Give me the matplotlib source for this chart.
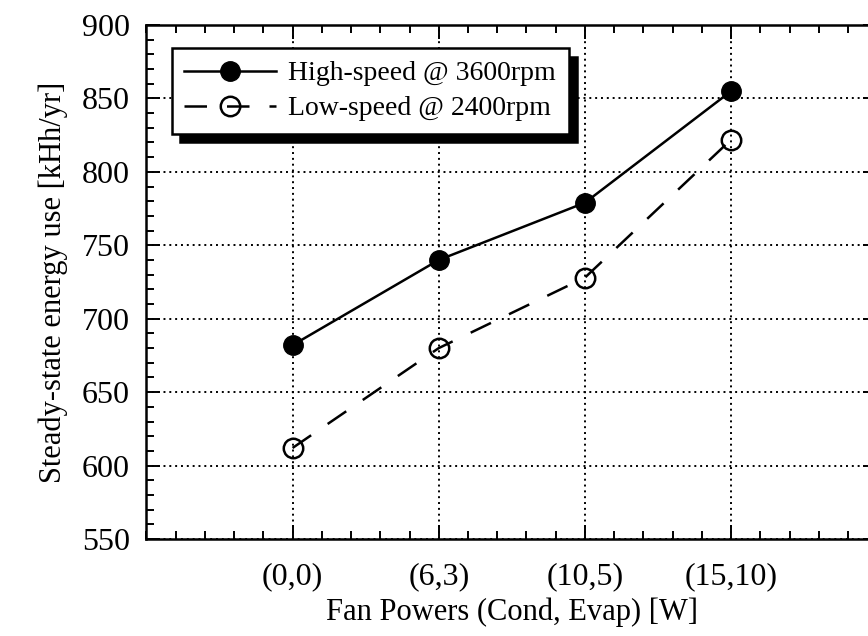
import matplotlib
matplotlib.use('Agg')
import matplotlib.pyplot as plt
from matplotlib.ticker import MultipleLocator, AutoMinorLocator

plt.rcParams['font.family'] = ['Liberation Serif', 'DejaVu Serif']

# Data
fan_powers = ['(0,0)', '(6,3)', '(10,5)', '(15,10)']
high_speed = [682, 740, 779, 855]
low_speed = [612, 680, 728, 822]

fig = plt.figure(figsize=(8.68, 6.36), dpi=100)
# right spine falls just outside the picture, as in the reference
ax = fig.add_axes([0.1686, 0.1525, 0.8422, 0.8082])

x = list(range(len(fan_powers)))
ax.plot(x, high_speed, color='black', lw=1.8, marker='o', ms=14,
        mfc='black', mec='black', label='High-speed @ 3600rpm')
ax.plot(x, low_speed, color='black', lw=1.8, dashes=(9, 8), marker='o', ms=14,
        mfc='none', mec='black', mew=1.8, label='Low-speed @ 2400rpm')

ax.set_xlim(-1, 4)
ax.set_ylim(550, 900)
ax.set_xticks(x)
ax.set_xticklabels(fan_powers)
ax.xaxis.set_minor_locator(AutoMinorLocator(5))
ax.yaxis.set_major_locator(MultipleLocator(50))
ax.yaxis.set_minor_locator(MultipleLocator(10))

ax.tick_params(which='both', direction='in', top=True, right=True, width=1.4, colors='black')
ax.tick_params(which='major', length=10, labelsize=23, pad=12)
ax.tick_params(which='minor', length=6)
ax.tick_params(axis='x', which='major', pad=17)
for s in ax.spines.values():
    s.set_linewidth(1.8)

ax.grid(True, which='major', color='black', linestyle=(0, (1, 2)), lw=1.4)

ax.set_xlabel('Fan Powers (Cond, Evap) [W]', fontsize=22, labelpad=4)
ax.set_ylabel('Steady-state energy use [kHh/yr]', fontsize=22, labelpad=10)

leg = ax.legend(loc='upper left', bbox_to_anchor=(0.0347, 0.9547), borderaxespad=0,
                fontsize=20, handlelength=3.3, handletextpad=0.45, fancybox=False,
                framealpha=1, edgecolor='black', labelspacing=0.35, borderpad=0.45,
                shadow={'ox': 6, 'oy': -6, 'facecolor': 'black', 'edgecolor': 'black', 'alpha': 1})
leg.get_frame().set_linewidth(1.8)

fig.savefig('out.png', dpi=100)
